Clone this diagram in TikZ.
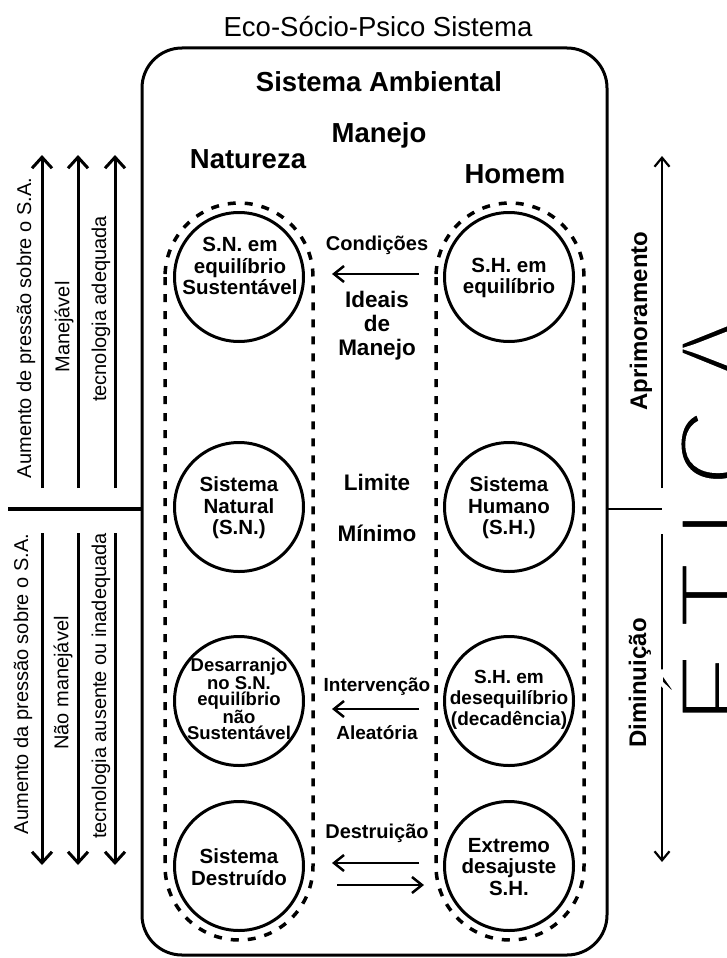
\documentclass[tikz,border=0pt]{standalone}
\usepackage{fontspec}
\setmainfont{Liberation Sans}
\usetikzlibrary{arrows.meta}
\begin{document}
\begin{tikzpicture}[x=1pt,y=-1pt,
  frame/.style={line width=3pt, rounded corners=40pt},
  circ/.style={circle, draw, line width=3pt, minimum size=129pt, inner sep=0pt},
  stad/.style={line width=3.5pt, dash pattern=on 8pt off 9pt, rounded corners=74pt},
  ctext/.style={font=\bfseries\fontsize{20.5}{21.5}\selectfont, align=center, inner sep=0pt},
  mlab/.style={font=\bfseries\fontsize{20}{22}\selectfont, align=center, inner sep=0pt},
  biglab/.style={font=\bfseries\fontsize{27.5}{30}\selectfont, inner sep=0pt, anchor=base},
  arr/.style={line width=2.5pt, -{Straight Barb[length=10pt,width=16pt]}},
  sidearr/.style={line width=3pt, -{Straight Barb[length=11pt,width=20pt]}},
  rarr/.style={line width=2.2pt, -{Straight Barb[length=9pt,width=15pt]}},
  sidetext/.style={font=\fontsize{20}{22}\selectfont, rotate=90, inner sep=0pt},
  ethtext/.style={font=\bfseries\fontsize{24}{26}\selectfont, rotate=90, inner sep=0pt}
]
\useasboundingbox (0,0) rectangle (726,958);

% titles
\node[font=\fontsize{27.5}{30}\selectfont, inner sep=0pt, anchor=base] (eco) at (378,37) {Eco-Sócio-Psico Sistema};
\draw[frame] (142,48) rectangle (607,955);
\node[biglab] (sa) at (379,92) {Sistema Ambiental};
\node[biglab] (man) at (379,142) {Manejo};
\node[biglab] (nat) at (248,168) {Natureza};
\node[biglab] (hom) at (515,183) {Homem};

% dashed stadiums
\draw[stad] (165,203) rectangle (313,940);
\draw[stad] (436,203) rectangle (584,940);

% circles
\node[circ] (n1) at (239,277) {};
\node[circ] (n2) at (239,507) {};
\node[circ] (n3) at (239,701) {};
\node[circ] (n4) at (239,866) {};
\node[circ] (h1) at (509,277) {};
\node[circ] (h2) at (509,507) {};
\node[circ] (h3) at (509,701) {};
\node[circ] (h4) at (509,866) {};

% circle texts
\node[ctext] (tn1) at (240,266) {S.N. em\\equilíbrio\\Sustentável};
\node[ctext] (tn2) at (239,508) {Sistema\\Natural\\(S.N.)};
\node[ctext, font=\bfseries\fontsize{18.5}{16.3}\selectfont] (tn3) at (239,699) {Desarranjo\\no S.N.\\equilíbrio\\não\\Sustentável};
\node[ctext] (tn4) at (239,867) {Sistema\\Destruído};
\node[ctext] (th1) at (509,278) {S.H. em\\equilíbrio};
\node[ctext] (th2) at (509,508) {Sistema\\Humano\\(S.H.)};
\node[ctext, font=\bfseries\fontsize{19}{21}\selectfont] (th3) at (509,700) {S.H. em\\desequilíbrio\\(decadência)};
\node[ctext] (th4) at (509,867) {Extremo\\desajuste\\S.H.};

% middle labels
\node[mlab] (c1) at (377,245) {Condições};
\node[mlab, font=\bfseries\fontsize{22.5}{24}\selectfont] (c1b) at (377,326) {Ideais\\de\\Manejo};
\node[mlab, font=\bfseries\fontsize{22.5}{24}\selectfont] (c2a) at (377,482) {Limite};
\node[mlab, font=\bfseries\fontsize{22.5}{24}\selectfont] (c2b) at (377,533) {Mínimo};
\node[mlab, font=\bfseries\fontsize{19}{21}\selectfont] (c3a) at (377,687) {Intervenção};
\node[mlab, font=\bfseries\fontsize{19}{21}\selectfont] (c3b) at (377,733) {Aleatória};
\node[mlab] (c4) at (377,833) {Destruição};

% middle arrows
\coordinate (a1s) at (419,274); \coordinate (a1e) at (332,274);
\coordinate (a3s) at (419,709); \coordinate (a3e) at (332,709);
\coordinate (a4s) at (419,863); \coordinate (a4e) at (332,863);
\coordinate (a5s) at (337,885); \coordinate (a5e) at (424,885);
\draw[arr] (a1s) -- (a1e);
\draw[arr] (a3s) -- (a3e);
\draw[arr] (a4s) -- (a4e);
\draw[arr] (a5s) -- (a5e);

% left side
\coordinate (lh0) at (8,509); \coordinate (lh1) at (142,509);
\draw[line width=3.5pt] (lh0) -- (lh1);
\foreach \x/\n in {42/a,78/b,115/c}{
  \coordinate (up\n0) at (\x,488); \coordinate (up\n1) at (\x,155);
  \coordinate (dn\n0) at (\x,533); \coordinate (dn\n1) at (\x,865);
  \draw[sidearr] (up\n0) -- (up\n1);
  \draw[sidearr] (dn\n0) -- (dn\n1);
}
\node[sidetext] (l1) at (26,328) {Aumento de pressão sobre o S.A.};
\node[sidetext] (l2) at (64,327) {Manejável};
\node[sidetext] (l3) at (101,309) {tecnologia adequada};
\node[sidetext] (l4) at (23,684) {Aumento da pressão sobre o S.A.};
\node[sidetext] (l5) at (63,683) {Não manejável};
\node[sidetext] (l6) at (101,686) {tecnologia ausente ou inadequada};

% right side
\coordinate (rh0) at (607,509); \coordinate (rh1) at (662,509);
\draw[line width=2.5pt] (rh0) -- (rh1);
\coordinate (ru0) at (662,488); \coordinate (ru1) at (662,156);
\coordinate (rd0) at (662,534); \coordinate (rd1) at (662,862);
\draw[rarr] (ru0) -- (ru1);
\draw[rarr] (rd0) -- (rd1);
\node[ethtext] (apr) at (641,321) {Aprimoramento};
\node[ethtext] (dim) at (640,683) {Diminuição};
\node[font=\fontsize{110}{110}\selectfont, rotate=90, anchor=base, inner sep=0pt] (etica) at (756,518) {\special{pdf:literal direct 1 1 1 RG 4.5 w 2 Tr}É\hspace{22pt}T\hspace{22pt}I\hspace{22pt}C\hspace{22pt}A};
\end{tikzpicture}
\end{document}
